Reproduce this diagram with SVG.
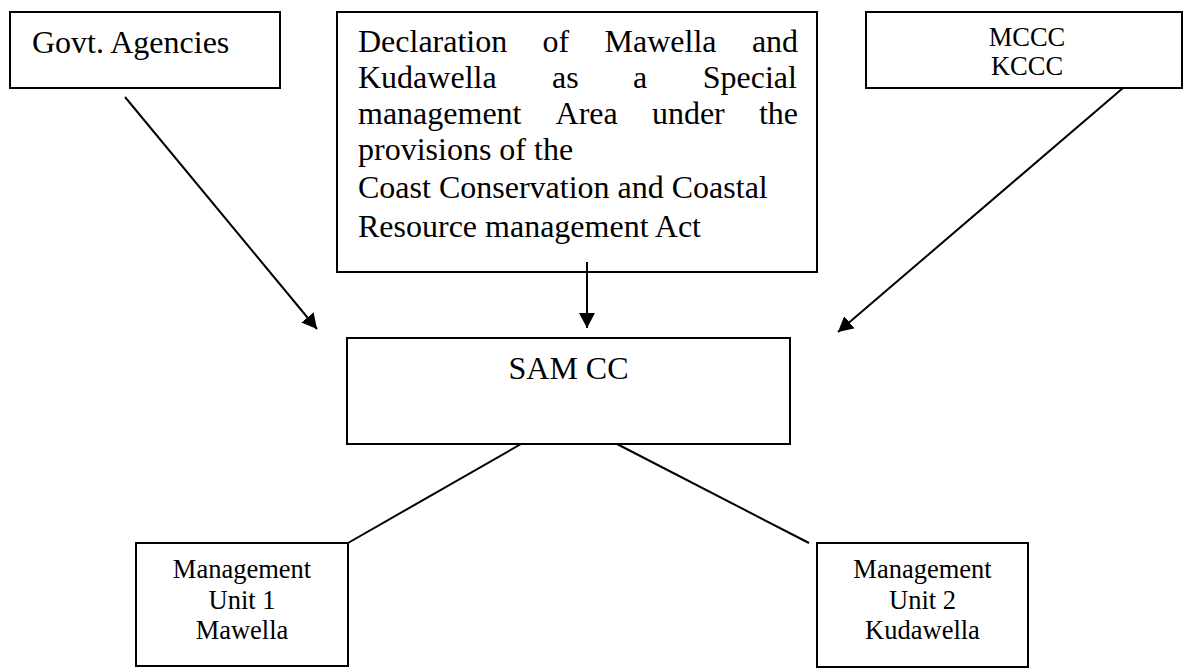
<svg xmlns="http://www.w3.org/2000/svg" width="1192" height="672" viewBox="0 0 1192 672">
  <style>
    .box { fill: #ffffff; stroke: #000000; stroke-width: 2; }
    .t32 { font-family: "Liberation Serif", "Times New Roman", serif; font-size: 32px; fill: #000000; }
    .t26 { font-family: "Liberation Serif", "Times New Roman", serif; font-size: 26.5px; fill: #000000; text-anchor: middle; }
    .conn { stroke: #000000; stroke-width: 2; fill: none; }
  </style>
  <defs>
    <marker id="arrow" markerUnits="userSpaceOnUse" markerWidth="16" markerHeight="16" refX="15" refY="8" orient="auto">
      <path d="M0,0 L15,8 L0,16 z" fill="#000000"/>
    </marker>
  </defs>
  <rect width="1192" height="672" fill="#ffffff"/>

  <g id="govt">
    <rect class="box" x="10" y="12" width="270" height="76"/>
    <text class="t32" x="32" y="53">Govt. Agencies</text>
  </g>

  <g id="declaration">
    <rect class="box" x="337" y="12" width="480" height="260"/>
    <text class="t32" y="52"><tspan x="358">Declaration</tspan><tspan x="542.6">of</tspan><tspan x="604.6">Mawella</tspan><tspan x="751.9">and</tspan></text>
    <text class="t32" y="88"><tspan x="358">Kudawella</tspan><tspan x="552">as</tspan><tspan x="633.1">a</tspan><tspan x="702.7">Special</tspan></text>
    <text class="t32" y="124"><tspan x="358">management</tspan><tspan x="555.6">Area</tspan><tspan x="651.9">under</tspan><tspan x="758.9">the</tspan></text>
    <text class="t32" x="358" y="160">provisions of the</text>
    <text class="t32" x="358" y="198">Coast Conservation and Coastal</text>
    <text class="t32" x="358" y="237">Resource management Act</text>
  </g>

  <g id="mccc">
    <rect class="box" x="866" y="12" width="316" height="76"/>
    <text class="t26" x="1027" y="46">MCCC</text>
    <text class="t26" x="1027" y="75">KCCC</text>
  </g>

  <g id="samcc">
    <rect class="box" x="347" y="338" width="443" height="106"/>
    <text class="t32" x="568.5" y="379" text-anchor="middle">SAM CC</text>
  </g>

  <g id="mu1">
    <rect class="box" x="136" y="543" width="212" height="123"/>
    <text class="t26" x="242" y="578">Management</text>
    <text class="t26" x="242" y="609">Unit 1</text>
    <text class="t26" x="242" y="639">Mawella</text>
  </g>

  <g id="mu2">
    <rect class="box" x="817" y="543" width="211" height="124"/>
    <text class="t26" x="922.5" y="578">Management</text>
    <text class="t26" x="922.5" y="609">Unit 2</text>
    <text class="t26" x="922.5" y="639">Kudawella</text>
  </g>

  <g id="connectors">
    <line class="conn" x1="125" y1="97" x2="317" y2="329" marker-end="url(#arrow)"/>
    <line class="conn" x1="587" y1="262" x2="587" y2="328" marker-end="url(#arrow)"/>
    <line class="conn" x1="1123" y1="88" x2="838" y2="332" marker-end="url(#arrow)"/>
    <line class="conn" x1="521" y1="444" x2="348" y2="543"/>
    <line class="conn" x1="617" y1="444" x2="809" y2="543"/>
  </g>
</svg>
